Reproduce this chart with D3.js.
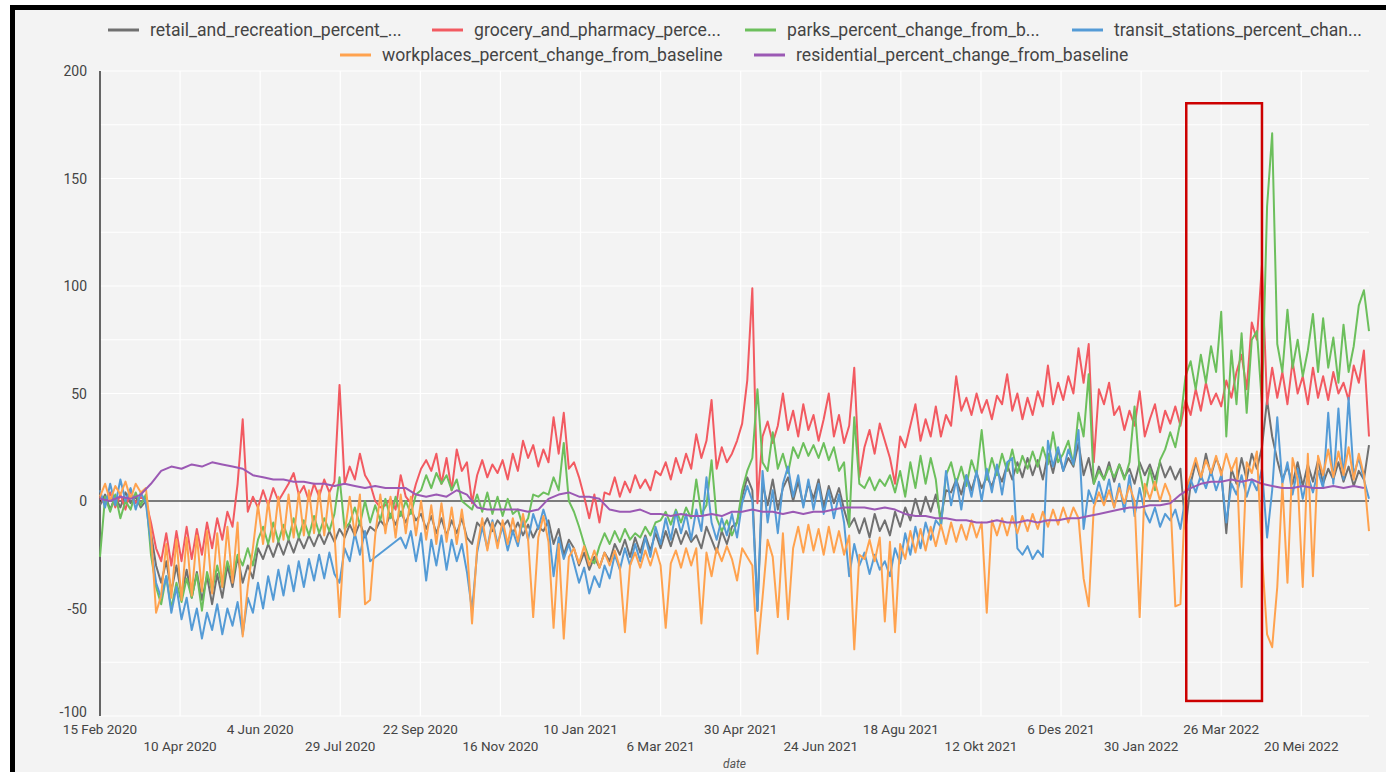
<!DOCTYPE html>
<html><head><meta charset="utf-8">
<script src="https://cdn.jsdelivr.net/npm/d3@7"></script>
<style>html,body{margin:0;padding:0;background:#fff;} svg{display:block;font-family:Roboto,"Noto Sans",sans-serif;}</style>
</head><body><svg id="chart" width="1386" height="772"></svg>
<script>
// ---------- DATA ----------
const startDate = "2020-02-15";
const stepDays = 3.5;            // one value every 3.5 days (weekend / mid-week)
const residentialStepDays = 7;   // residential read weekly
const monthNames = ["Jan","Feb","Mar","Apr","Mei","Jun","Jul","Agu","Sep","Okt","Nov","Des"];
const tickEveryDays = 55;
const tickCount = 16;
const yTicks = [-100,-50,0,50,100,150,200];
const yGrid = [-100,-75,-50,-25,0,25,50,75,100,125,150,175,200];
const axisTitle = "date";
const legendLabels = ["retail_and_recreation_percent_...","grocery_and_pharmacy_perce...","parks_percent_change_from_b...","transit_stations_percent_chan...","workplaces_percent_change_from_baseline","residential_percent_change_from_baseline"];
const annotation = {from:"2022-03-02", to:"2022-04-23", low:-93, high:185};

const retail = [
-2,3,-4,2,-3,4,-1,2,-3,0,
-15,-30,-38,-28,-42,-30,-44,-32,-45,-33,
-46,-35,-48,-34,-45,-30,-40,-26,-38,-30,
-36,-22,-27,-20,-26,-19,-25,-18,-24,-17,
-22,-16,-21,-15,-20,-14,-19,-13,-17,-11,
-16,-10,-17,-12,-14,-9,-12,-6,-11,-5,
-10,-4,-9,-6,-13,-7,-15,-8,-16,-9,
-15,-8,-17,-20,-10,-13,-8,-14,-9,-12,
-9,-15,-10,-16,-11,-17,-12,-14,-9,-20,
-13,-25,-18,-22,-30,-24,-32,-26,-31,-24,
-28,-20,-25,-18,-26,-17,-24,-16,-23,-15,
-22,-14,-21,-13,-20,-14,-19,-16,-22,-12,
-18,-24,-14,-20,-12,-10,2,11,5,-51,
8,-2,10,-4,6,11,0,9,-2,8,
1,10,-3,7,-1,6,-4,-12,-8,-15,
-8,-17,-6,-14,-9,-16,-5,-12,-3,-9,
1,-7,2,-5,3,-8,5,4,10,3,
12,5,13,6,11,7,14,9,17,10,
18,11,20,12,19,10,22,13,24,14,
20,16,27,12,20,8,16,10,18,9,
17,11,15,8,18,12,17,10,18,11,
16,10,15,-13,8,18,10,22,12,20,
14,-15,15,8,20,10,22,15,25,47,
30,19,10,16,8,18,7,17,9,19,
8,15,10,18,9,16,7,14,10,26];

const grocery = [
2,-2,4,-3,3,-4,5,-1,2,0,
-10,-22,-28,-15,-30,-14,-28,-12,-27,-13,
-25,-10,-22,-8,-18,-5,-12,8,38,-5,
2,-3,5,-2,6,0,4,8,13,3,
7,0,8,2,10,4,9,54,8,16,
10,22,12,8,0,-3,-2,1,-4,12,
2,-1,8,15,19,14,22,8,20,5,
24,14,18,-1,12,19,11,17,13,19,
10,22,14,28,20,26,16,24,18,39,
22,41,15,18,11,2,-8,3,-10,4,
3,11,2,9,4,12,6,10,5,14,
12,18,10,20,13,22,15,31,20,28,
47,15,25,18,22,28,36,56,99,-1,
30,37,27,35,50,33,42,30,45,33,
40,28,38,50,30,40,27,35,62,11,
25,33,22,36,28,20,8,30,25,35,
45,28,38,30,44,30,40,35,58,42,
48,40,50,41,47,38,49,45,59,42,
50,38,48,40,51,44,63,45,55,47,
58,50,71,55,73,18,52,45,55,40,
44,33,42,35,51,30,38,45,32,42,
36,44,35,47,40,52,42,55,45,50,
44,56,48,60,68,52,83,75,110,45,
62,48,60,45,65,50,58,45,62,48,
58,47,60,50,55,47,63,55,70,30];

const parks = [
-26,2,-5,3,-8,0,-4,4,-2,3,
-25,-40,-48,-35,-50,-38,-47,-36,-45,-34,
-51,-33,-42,-30,-40,-28,-36,-25,-30,-22,
-30,-18,-12,-20,-10,-19,-11,-18,-8,-17,
-9,-16,-7,-15,-8,-14,-6,11,-13,-10,
-3,-11,0,-10,-2,-9,1,-8,2,-7,
0,-6,3,5,12,6,13,8,12,5,
10,0,-2,-4,3,-5,4,-6,2,-7,
1,-6,-4,-12,-8,3,2,4,3,11,
5,27,0,-5,-12,-20,-27,-29,-21,-15,
-20,-14,-19,-13,-18,-15,-17,-12,-16,-10,
-9,-5,-11,-4,-10,-3,-8,10,-6,-2,
19,-8,-14,-9,-16,-10,5,14,20,52,
18,14,32,15,22,13,25,20,27,21,
26,20,27,19,25,14,18,-12,39,8,
6,11,5,10,7,12,4,14,2,18,
6,21,8,20,10,-12,12,18,8,16,
7,19,12,33,10,20,12,22,14,24,
13,21,15,23,16,25,17,32,18,22,
28,17,41,30,59,8,14,10,16,11,
17,10,18,44,14,2,15,5,19,24,
32,25,37,58,65,52,68,55,72,60,
88,30,70,45,78,41,75,79,45,137,
171,73,60,89,62,75,58,70,87,60,
85,62,76,55,82,60,72,91,98,79];

const transit = [
5,-3,8,-2,10,0,6,-4,4,-1,
-20,-38,-45,-35,-52,-40,-55,-45,-60,-50,
-64,-52,-60,-48,-62,-50,-58,-47,-62,-45,
-52,-38,-50,-35,-46,-32,-44,-30,-42,-28,
-40,-27,-37,-25,-36,-24,-34,-38,-22,-28,
-15,-25,-14,-28,null,null,null,null,null,-17,
-22,-14,-28,-15,-37,-18,-30,-16,-32,-18,
-28,-20,-33,-51,-24,-12,-22,-9,-20,-12,
-23,-14,-21,-8,-18,-6,-13,-4,-12,-35,
-17,-27,-20,-29,-38,-31,-43,-35,-40,-30,
-36,-25,-32,-22,-30,-20,-28,-17,-26,-12,
-20,-8,-18,-5,-15,-6,-18,-4,-14,11,
-10,-18,-8,-16,-6,-17,-1,7,0,-51,
14,-10,5,-15,8,16,2,12,-3,10,
-4,8,-6,5,-8,3,-10,-35,-20,-30,
-24,-34,-25,-32,-28,-35,-22,-29,-15,-25,
-12,-22,-10,-18,-9,-12,14,-2,10,-4,
12,2,14,0,15,4,17,3,18,20,
-22,-25,-21,-27,-23,-26,28,16,25,14,
24,17,33,-13,5,-1,9,0,10,-3,
8,-5,12,-7,6,-5,-10,-3,-12,-6,
-9,-4,-13,2,10,4,12,6,14,5,
12,-10,8,3,12,2,10,5,15,-17,
5,39,8,18,3,15,1,12,4,14,
6,41,8,43,10,48,12,20,10,1];

const workplaces = [
2,8,0,7,3,9,1,8,4,6,
-15,-52,-44,-20,-45,-18,-46,-17,-44,-16,
-42,-14,-43,-15,-40,-12,-38,-10,-63,-40,
-22,-2,-20,0,-19,2,-18,3,-17,4,
-16,5,-15,5,-16,4,-15,-54,-15,2,
-16,3,-48,-46,-16,3,-15,2,-17,3,
-15,2,-16,0,-18,-2,-20,-1,-19,-3,
-20,-4,-21,-57,-22,-8,-23,-10,-22,-9,
-20,-8,-19,-6,-18,-54,-17,-7,-19,-59,
-20,-64,-26,-22,-29,-21,-30,-23,-31,-24,
-30,-23,-31,-61,-30,-24,-31,-23,-30,-22,
-30,-59,-29,-23,-31,-22,-30,-22,-57,-24,
-35,-22,-28,-21,-27,-37,-22,-26,-30,-71,
-45,-18,-26,-54,-15,-55,-22,-12,-24,-11,
-23,-13,-25,-12,-24,-14,-25,-16,-69,-25,
-27,-18,-28,-17,-56,-19,-61,-20,-27,-14,
-24,-13,-23,-12,-21,-11,-20,-10,-19,-11,
-18,-9,-17,-10,-52,-9,-16,-8,-16,-7,
-15,-7,-14,-6,-13,-5,-12,-4,-11,-3,
-10,-3,-8,-36,-49,-3,4,-2,5,-3,
6,-1,7,0,-54,8,1,9,0,8,
2,-49,-48,5,12,20,11,19,13,21,
12,22,14,20,-40,18,13,23,-25,-62,
-68,-40,8,-38,20,10,-40,22,-35,21,
12,24,11,23,12,25,10,22,12,-14];

const residential = [
1,0,2,1,3,8,14,16,15,17,
16,18,17,16,15,12,11,10,10,9,
9,8,8,7,8,7,6,7,6,6,
6,3,2,3,2,5,3,-3,-4,-4,
-4,-4,-5,-4,1,3,4,2,2,1,
-4,-5,-5,-4,-6,-6,-7,-6,-7,-7,
-6,-7,-5,-5,-4,-5,-5,-6,-5,-6,
-5,-5,-4,-3,-3,-3,-4,-3,-4,-6,
-7,-7,-8,-8,-9,-9,-10,-10,-9,-10,
-10,-9,-10,-9,-9,-8,-8,-7,-6,-5,
-4,-3,-3,-2,-2,-1,3,6,8,9,
9,10,9,10,8,7,6,6,7,6,
6,7,6,7,6];

const seriesColors = ["#707070","#f25a61","#6cbf5c","#549bd6","#ffa24e","#9b59b4"];

// ---------- CHART ----------
const svg = d3.select("#chart");
const W = 1386, H = 772;
const plot = {left:100, right:1369, top:71, bottom:716};
const DAY = 864e5;
const t0 = new Date(startDate + "T00:00:00Z");
const endDate = new Date(t0.getTime() + 249*stepDays*DAY);

// frame
svg.append("rect").attr("width",W).attr("height",H).attr("fill","#ffffff");
svg.append("rect").attr("x",10).attr("y",5).attr("width",W-10).attr("height",H-5).attr("fill","#f3f3f3");
svg.append("rect").attr("x",10).attr("y",5).attr("width",5).attr("height",H-5).attr("fill","#000");
svg.append("rect").attr("x",10).attr("y",5).attr("width",W-10).attr("height",5).attr("fill","#000");

const x = d3.scaleUtc().domain([t0,endDate]).range([plot.left,plot.right]);
const y = d3.scaleLinear().domain([-100,200]).range([plot.bottom,plot.top]);

const tickDates = d3.range(tickCount).map(k => d3.utcDay.offset(t0, k*tickEveryDays));
const fmt = d => `${d.getUTCDate()} ${monthNames[d.getUTCMonth()]} ${d.getUTCFullYear()}`;

// grid
const g = svg.append("g");
g.selectAll("line.hg").data(yGrid).join("line")
  .attr("x1",plot.left).attr("x2",plot.right)
  .attr("y1",d=>y(d)).attr("y2",d=>y(d))
  .attr("stroke","#ffffff").attr("stroke-width",1.2);
g.selectAll("line.vg").data(tickDates).join("line")
  .attr("x1",d=>x(d)).attr("x2",d=>x(d))
  .attr("y1",plot.top).attr("y2",plot.bottom)
  .attr("stroke","#ffffff").attr("stroke-width",1.2);

// y labels (lowest one nudged up a little so it does not collide with the first date)
svg.append("g").selectAll("text").data(yTicks).join("text")
  .attr("x",87).attr("y",d=>y(d)+(d===-100 ? 1 : 5))
  .attr("text-anchor","end").attr("font-size",14).attr("fill","#444")
  .text(d=>d);

// x labels
svg.append("g").selectAll("text").data(tickDates).join("text")
  .attr("x",d=>x(d)).attr("y",(d,i)=> i%2===0 ? 734 : 751)
  .attr("text-anchor","middle").attr("font-size",13.5).attr("fill","#444")
  .text(fmt);
svg.append("text").attr("x",(plot.left+plot.right)/2).attr("y",768)
  .attr("text-anchor","middle").attr("font-size",12).attr("font-style","italic").attr("fill","#555")
  .text(axisTitle);

// axis lines
svg.append("line").attr("x1",plot.left).attr("x2",plot.right).attr("y1",y(0)).attr("y2",y(0)).attr("stroke","#000").attr("stroke-width",1.2);
svg.append("line").attr("x1",plot.left).attr("x2",plot.left).attr("y1",plot.top).attr("y2",plot.bottom).attr("stroke","#000").attr("stroke-width",1.2);

// series
const toPts = (arr, step) => arr.map((v,i)=>({date:new Date(t0.getTime()+i*step*DAY), v})).filter(d=>d.v!==null);
const allSeries = [
  toPts(retail,stepDays), toPts(grocery,stepDays), toPts(parks,stepDays),
  toPts(transit,stepDays), toPts(workplaces,stepDays), toPts(residential,residentialStepDays)
];
const line = d3.line().x(d=>x(d.date)).y(d=>y(d.v));
svg.append("g").selectAll("path").data(allSeries).join("path")
  .attr("d",line).attr("fill","none")
  .attr("stroke",(d,i)=>seriesColors[i]).attr("stroke-width",2)
  .attr("stroke-linejoin","round");

// annotation box
const a0 = new Date(annotation.from+"T00:00:00Z"), a1 = new Date(annotation.to+"T00:00:00Z");
svg.append("rect").attr("x",x(a0)).attr("y",y(annotation.high))
  .attr("width",x(a1)-x(a0)).attr("height",y(annotation.low)-y(annotation.high))
  .attr("fill","none").attr("stroke","#cc0000").attr("stroke-width",2.5);

// legend
const legendPos = [[108,30],[432,30],[745,30],[1072,30],[340,55],[754,55]];
const lg = svg.append("g").selectAll("g").data(legendLabels).join("g")
  .attr("transform",(d,i)=>`translate(${legendPos[i][0]},${legendPos[i][1]})`);
lg.append("line").attr("x1",0).attr("x2",31).attr("y1",0).attr("y2",0)
  .attr("stroke",(d,i)=>seriesColors[i]).attr("stroke-width",3);
lg.append("text").attr("x",42).attr("y",6).attr("font-size",17.6).attr("fill","#444").text(d=>d);
</script></body></html>
